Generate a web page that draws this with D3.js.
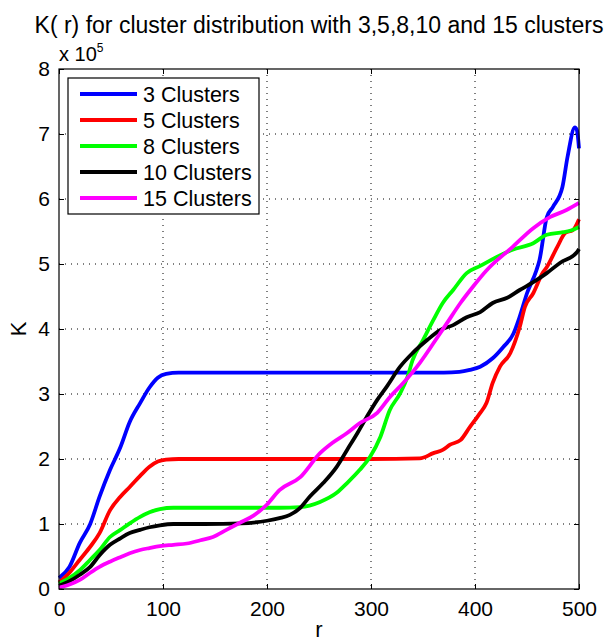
<!DOCTYPE html>
<html>
<head>
<meta charset="utf-8">
<script src="https://cdn.jsdelivr.net/npm/d3@7"></script>
<style>
  html, body { margin: 0; padding: 0; background: #fff; }
  svg { display: block; }
  text { font-family: "Liberation Sans", Arial, Helvetica, sans-serif; fill: #000; }
</style>
</head>
<body>
<svg id="chart" width="611" height="642"></svg>
<script>
// K(r) curves (values in units of 1e5) for each cluster count
const seriesNames = ["3 Clusters", "5 Clusters", "8 Clusters", "10 Clusters", "15 Clusters"];
const seriesColors = ["#0000ff", "#ff0000", "#00ff00", "#000000", "#ff00ff"];

const r3 = [0, 10, 20, 30, 39, 49, 59, 68, 78, 87, 95, 103, 115, 130, 200, 300, 370, 385, 395, 405, 417, 427, 437, 443, 450, 459, 462, 469, 475, 484, 489, 496, 498, 500];
const k3 = [0.17, 0.34, 0.71, 1.0, 1.42, 1.83, 2.18, 2.57, 2.86, 3.1, 3.25, 3.31, 3.33, 3.33, 3.33, 3.33, 3.33, 3.34, 3.37, 3.42, 3.55, 3.72, 3.93, 4.19, 4.55, 4.9, 5.06, 5.72, 5.88, 6.18, 6.65, 7.1, 7.06, 6.78];

const r5 = [0, 10, 20, 30, 39, 49, 59, 68, 78, 87, 95, 103, 115, 130, 200, 300, 347, 360, 369, 376, 386, 395, 405, 411, 417, 424, 434, 443, 448, 456, 465, 469, 479, 487, 494, 500];
const k5 = [0.1, 0.25, 0.45, 0.65, 0.86, 1.21, 1.42, 1.57, 1.74, 1.88, 1.96, 1.99, 2.0, 2.0, 2.0, 2.0, 2.01, 2.09, 2.14, 2.22, 2.29, 2.49, 2.71, 2.86, 3.17, 3.42, 3.63, 4.03, 4.34, 4.55, 4.86, 4.95, 5.26, 5.48, 5.52, 5.69];

const r8 = [0, 10, 20, 30, 39, 49, 59, 68, 78, 87, 97, 110, 150, 212, 232, 251, 267, 277, 289, 299, 309, 318, 328, 335, 340, 350, 360, 369, 379, 392, 405, 421, 436, 456, 469, 485, 493, 500];
const k8 = [0.08, 0.17, 0.29, 0.45, 0.6, 0.8, 0.91, 1.01, 1.11, 1.18, 1.23, 1.25, 1.25, 1.25, 1.26, 1.34, 1.48, 1.63, 1.83, 2.03, 2.34, 2.75, 3.01, 3.26, 3.52, 3.83, 4.14, 4.4, 4.6, 4.86, 4.97, 5.11, 5.22, 5.32, 5.45, 5.49, 5.52, 5.57];

const r10 = [0, 10, 20, 30, 39, 49, 59, 68, 78, 87, 97, 110, 140, 175, 200, 212, 222, 232, 241, 254, 267, 277, 287, 296, 306, 315, 328, 340, 354, 366, 379, 392, 405, 417, 431, 443, 456, 469, 482, 498, 500];
const k10 = [0.05, 0.12, 0.22, 0.34, 0.52, 0.68, 0.78, 0.86, 0.91, 0.95, 0.98, 1.0, 1.0, 1.01, 1.05, 1.09, 1.14, 1.25, 1.42, 1.63, 1.88, 2.14, 2.4, 2.65, 2.91, 3.11, 3.42, 3.63, 3.83, 3.98, 4.06, 4.18, 4.26, 4.4, 4.48, 4.6, 4.72, 4.86, 5.02, 5.18, 5.23];

const r15 = [0, 10, 20, 30, 39, 49, 59, 68, 78, 87, 97, 110, 123, 136, 148, 161, 174, 187, 200, 212, 232, 251, 263, 277, 289, 306, 318, 331, 347, 360, 373, 386, 398, 411, 436, 456, 472, 488, 500];
const k15 = [0.02, 0.07, 0.14, 0.25, 0.34, 0.42, 0.49, 0.55, 0.6, 0.63, 0.66, 0.68, 0.7, 0.75, 0.8, 0.91, 1.02, 1.13, 1.3, 1.52, 1.72, 2.09, 2.25, 2.4, 2.55, 2.71, 2.95, 3.17, 3.48, 3.78, 4.09, 4.4, 4.65, 4.9, 5.26, 5.55, 5.72, 5.83, 5.94];

const xTicks = [0, 100, 200, 300, 400, 500];
const yTicks = [0, 1, 2, 3, 4, 5, 6, 7, 8];

const seriesR = [r3, r5, r8, r10, r15];
const seriesK = [k3, k5, k8, k10, k15];

const margin = { left: 59, top: 69, right: 32, bottom: 53 };
const W = 611, H = 642;
const pw = W - margin.left - margin.right;
const ph = H - margin.top - margin.bottom;

const svg = d3.select("#chart");
const g = svg.append("g").attr("transform", `translate(${margin.left},${margin.top})`);

const x = d3.scaleLinear().domain([0, 500]).range([0, pw]);
const y = d3.scaleLinear().domain([0, 8]).range([ph, 0]);

// dotted grid
const grid = g.append("g").attr("class", "grid");
grid.selectAll("line.vx").data(xTicks.slice(1, -1)).join("line")
  .attr("x1", d => x(d)).attr("x2", d => x(d)).attr("y1", 0).attr("y2", ph)
  .attr("stroke", "#000").attr("stroke-width", 1).attr("stroke-dasharray", "1,5");
grid.selectAll("line.hy").data(yTicks.slice(1, -1)).join("line")
  .attr("x1", 0).attr("x2", pw).attr("y1", d => y(d)).attr("y2", d => y(d))
  .attr("stroke", "#000").attr("stroke-width", 1).attr("stroke-dasharray", "1,5");

// axes with inward ticks on all four sides
const tickLen = 5;
const xAxis = g.append("g").attr("transform", `translate(0,${ph})`)
  .call(d3.axisBottom(x).tickValues(xTicks).tickSizeInner(-tickLen).tickSizeOuter(0).tickPadding(12));
const xAxisTop = g.append("g")
  .call(d3.axisTop(x).tickValues(xTicks).tickSizeInner(-tickLen).tickSizeOuter(0).tickFormat(""));
const yAxis = g.append("g")
  .call(d3.axisLeft(y).tickValues(yTicks).tickSizeInner(-tickLen).tickSizeOuter(0).tickPadding(9));
const yAxisRight = g.append("g").attr("transform", `translate(${pw},0)`)
  .call(d3.axisRight(y).tickValues(yTicks).tickSizeInner(-tickLen).tickSizeOuter(0).tickFormat(""));

[xAxis, xAxisTop, yAxis, yAxisRight].forEach(a => {
  a.select(".domain").remove();
  a.selectAll("line").attr("stroke", "#000");
  a.selectAll("text").attr("font-size", 21).attr("font-family", "'Liberation Sans', Arial, sans-serif").attr("fill", "#000");
});

// curves
const line = d3.line().curve(d3.curveMonotoneX).x(d => x(d[0])).y(d => y(d[1]));
const plot = g.append("g");
seriesNames.forEach((name, i) => {
  const pts = seriesR[i].map((r, j) => [r, seriesK[i][j]]);
  plot.append("path").datum(pts)
    .attr("d", line)
    .attr("fill", "none")
    .attr("stroke", seriesColors[i])
    .attr("stroke-width", 3.8)
    .attr("stroke-linejoin", "round")
    .attr("stroke-linecap", "butt");
});

// plot box
g.append("rect").attr("x", 0).attr("y", 0).attr("width", pw).attr("height", ph)
  .attr("fill", "none").attr("stroke", "#000").attr("stroke-width", 1.2);

// legend
const legend = g.append("g").attr("transform", "translate(9,9)");
legend.append("rect").attr("width", 191).attr("height", 136)
  .attr("fill", "#fff").attr("stroke", "#000").attr("stroke-width", 1.2);
seriesNames.forEach((name, i) => {
  const yy = 16 + i * 26;
  legend.append("line").attr("x1", 12).attr("x2", 69).attr("y1", yy).attr("y2", yy)
    .attr("stroke", seriesColors[i]).attr("stroke-width", 3.8);
  legend.append("text").attr("x", 75).attr("y", yy).attr("dy", "0.36em")
    .attr("font-size", 21.5).text(name);
});

// title, exponent, axis labels
svg.append("text").attr("x", margin.left + pw / 2).attr("y", 33)
  .attr("text-anchor", "middle").attr("font-size", 23)
  .text("K( r) for cluster distribution with 3,5,8,10 and 15 clusters");

const expo = svg.append("text").attr("x", margin.left).attr("y", 61).attr("font-size", 20);
expo.append("tspan").text("x 10");
expo.append("tspan").attr("dy", -9).attr("font-size", 12).text("5");

svg.append("text").attr("x", margin.left + pw / 2).attr("y", 637)
  .attr("text-anchor", "middle").attr("font-size", 22).text("r");

svg.append("text").attr("transform", `translate(26,${margin.top + ph / 2}) rotate(-90)`)
  .attr("text-anchor", "middle").attr("font-size", 22).text("K");
</script>
</body>
</html>
